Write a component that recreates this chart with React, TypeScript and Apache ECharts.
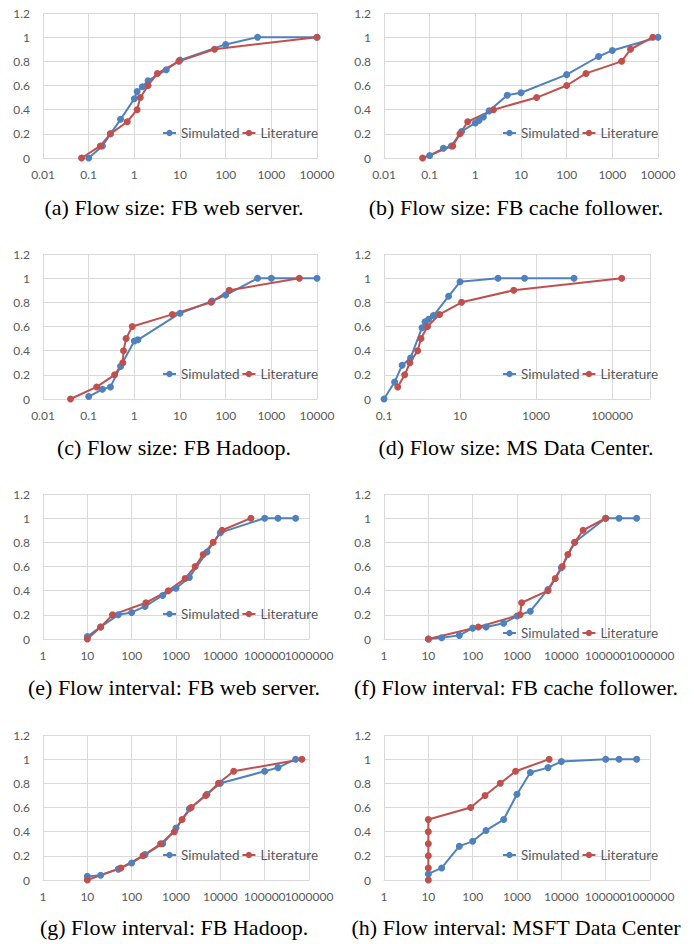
import React, { useEffect, useRef } from 'react';
import * as echarts from 'echarts';

const SERIES_NAMES = ['Simulated', 'Literature'];
const Y_TICKS_MAX = 1.2;

// (a) Flow size: FB web server
const aSimX = [0.1, 0.2, 0.3, 0.5, 1, 1.15, 1.5, 2, 5, 10, 100, 500, 10000];
const aSimY = [0, 0.1, 0.2, 0.32, 0.49, 0.55, 0.59, 0.64, 0.73, 0.81, 0.94, 1, 1];
const aLitX = [0.07, 0.18, 0.3, 0.7, 1.15, 1.35, 2, 3.2, 9.4, 57, 10000];
const aLitY = [0, 0.1, 0.2, 0.3, 0.4, 0.5, 0.6, 0.7, 0.8, 0.9, 1];

// (b) Flow size: FB cache follower
const bSimX = [0.1, 0.2, 0.3, 0.5, 1, 1.2, 1.5, 2, 5, 10, 100, 500, 1000, 10000];
const bSimY = [0.02, 0.08, 0.1, 0.22, 0.29, 0.31, 0.34, 0.39, 0.52, 0.54, 0.69, 0.84, 0.89, 1];
const bLitX = [0.07, 0.32, 0.46, 0.68, 2.5, 22, 100, 265, 1600, 2500, 7700];
const bLitY = [0, 0.1, 0.2, 0.3, 0.4, 0.5, 0.6, 0.7, 0.8, 0.9, 1];

// (c) Flow size: FB Hadoop
const cSimX = [0.1, 0.2, 0.3, 0.5, 1, 1.2, 10, 50, 100, 500, 1000, 10000];
const cSimY = [0.02, 0.08, 0.1, 0.27, 0.48, 0.49, 0.71, 0.81, 0.86, 1, 1, 1];
const cLitX = [0.04, 0.15, 0.37, 0.56, 0.58, 0.66, 0.9, 6.8, 48, 120, 4100];
const cLitY = [0, 0.1, 0.2, 0.3, 0.4, 0.5, 0.6, 0.7, 0.8, 0.9, 1];

// (d) Flow size: MS Data Center
const dSimX = [0.1, 0.19, 0.3, 0.5, 1, 1.2, 1.5, 2, 5, 10, 100, 500, 10000];
const dSimY = [0, 0.14, 0.28, 0.34, 0.59, 0.64, 0.66, 0.69, 0.85, 0.97, 1, 1, 1];
const dLitX = [0.23, 0.35, 0.48, 0.77, 0.94, 1.4, 2.9, 11, 260, 180000];
const dLitY = [0.1, 0.2, 0.3, 0.4, 0.5, 0.6, 0.7, 0.8, 0.9, 1];

// (e) Flow interval: FB web server
const eSimX = [10, 20, 50, 100, 200, 500, 1000, 2000, 5000, 10000, 100000, 200000, 500000];
const eSimY = [0.02, 0.1, 0.2, 0.22, 0.27, 0.36, 0.42, 0.51, 0.72, 0.88, 1, 1, 1];
const eLitX = [10, 20, 37, 210, 670, 1600, 2700, 4100, 6900, 11000, 49000];
const eLitY = [0, 0.1, 0.2, 0.3, 0.4, 0.5, 0.6, 0.7, 0.8, 0.9, 1];

// (f) Flow interval: FB cache follower
const fSimX = [10, 20, 50, 100, 200, 500, 1000, 2000, 5000, 10000, 20000, 100000, 200000, 500000];
const fSimY = [0, 0.01, 0.03, 0.09, 0.1, 0.13, 0.19, 0.23, 0.41, 0.59, 0.8, 1, 1, 1];
const fLitX = [10, 134, 1170, 1270, 5000, 7300, 10500, 14000, 20000, 31000, 100000];
const fLitY = [0, 0.1, 0.2, 0.3, 0.4, 0.5, 0.6, 0.7, 0.8, 0.9, 1];

// (g) Flow interval: FB Hadoop
const gSimX = [10, 20, 50, 100, 200, 500, 1000, 2000, 5000, 10000, 100000, 200000, 500000];
const gSimY = [0.03, 0.04, 0.09, 0.14, 0.21, 0.3, 0.43, 0.59, 0.71, 0.8, 0.9, 0.93, 1];
const gLitX = [10, 57, 180, 450, 920, 1370, 2200, 4700, 9100, 20000, 690000];
const gLitY = [0, 0.1, 0.2, 0.3, 0.4, 0.5, 0.6, 0.7, 0.8, 0.9, 1];

// (h) Flow interval: MSFT Data Center
const hSimX = [10, 20, 50, 100, 200, 500, 1000, 2000, 5000, 10000, 100000, 200000, 500000];
const hSimY = [0.05, 0.1, 0.28, 0.32, 0.41, 0.5, 0.71, 0.89, 0.93, 0.98, 1, 1, 1];
const hLitX = [10, 10, 10, 10, 10, 10, 90, 190, 420, 930, 5300];
const hLitY = [0, 0.1, 0.2, 0.3, 0.4, 0.5, 0.6, 0.7, 0.8, 0.9, 1];

const CAPTIONS = [
  '(a) Flow size: FB web server.',
  '(b) Flow size: FB cache follower.',
  '(c) Flow size: FB Hadoop.',
  '(d) Flow size: MS Data Center.',
  '(e) Flow interval: FB web server.',
  '(f) Flow interval: FB cache follower.',
  '(g) Flow interval: FB Hadoop.',
  '(h) Flow interval: MSFT Data Center',
];

// log10 axis extents (decades) and label step per panel
const X_LOG_MIN = [-2, -2, -2, -1, 0, 0, 0, 0];
const X_LOG_MAX = [4, 4, 4, 6, 6, 6, 6, 6];
const X_LOG_STEP = [1, 1, 1, 2, 1, 1, 1, 1];
// panels whose last tick label overlaps the previous one (both are shown)
const OVERLAP_MAX_LABEL = [false, false, false, false, true, true, true, true];

const PANEL_DATA = [
  [aSimX, aSimY, aLitX, aLitY],
  [bSimX, bSimY, bLitX, bLitY],
  [cSimX, cSimY, cLitX, cLitY],
  [dSimX, dSimY, dLitX, dLitY],
  [eSimX, eSimY, eLitX, eLitY],
  [fSimX, fSimY, fLitX, fLitY],
  [gSimX, gSimY, gLitX, gLitY],
  [hSimX, hSimY, hLitX, hLitY],
];

// layout
const GRIDS = [
  { left: 43, top: 13, width: 274, height: 145 },
  { left: 384, top: 13, width: 274, height: 145 },
  { left: 43, top: 254, width: 274, height: 145 },
  { left: 384, top: 254, width: 266, height: 145 },
  { left: 43, top: 494, width: 266, height: 145 },
  { left: 384, top: 494, width: 266, height: 145 },
  { left: 43, top: 735, width: 266, height: 145 },
  { left: 384, top: 735, width: 266, height: 145 },
];
const LEGENDS = [
  { left: 162, cy: 134 },
  { left: 502, cy: 134 },
  { left: 162, cy: 375 },
  { left: 502, cy: 375 },
  { left: 162, cy: 615 },
  { left: 502, cy: 634 },
  { left: 162, cy: 856 },
  { left: 502, cy: 856 },
];
const CAPTION_POS = [
  [174, 207], [516, 207],
  [174, 447], [516, 447],
  [174, 687], [516, 687],
  [174, 927], [516, 927],
];

const BLUE = '#4F81BD';
const RED = '#C0504D';
const GRID_COLOR = '#D9D9D9';
const LABEL_COLOR = '#595959';
const SANS = 'Lato';

function fmtPow(p: number): string {
  const r = Math.round(p);
  if (r < 0) return Math.pow(10, r).toFixed(-r);
  return String(Math.round(Math.pow(10, r)));
}

function buildOption() {
  const grid: any[] = [];
  const xAxis: any[] = [];
  const extraX: any[] = [];
  const yAxis: any[] = [];
  const series: any[] = [];
  const legend: any[] = [];
  const graphic: any[] = [];

  const labelBase = {
    color: LABEL_COLOR,
    fontFamily: SANS,
    fontSize: 12,
    hideOverlap: false,
  };

  PANEL_DATA.forEach((pd, i) => {
    const [sx, sy, lx, ly] = pd;
    const off = X_LOG_MIN[i];
    const span = X_LOG_MAX[i] - off;
    grid.push({ ...GRIDS[i], containLabel: false });
    xAxis.push({
      type: 'value',
      gridIndex: i,
      position: 'bottom',
      min: 0,
      max: span,
      interval: X_LOG_STEP[i],
      axisLine: { show: true, lineStyle: { color: GRID_COLOR, width: 1 } },
      axisTick: { show: false },
      splitLine: { show: true, lineStyle: { color: GRID_COLOR, width: 1 } },
      axisLabel: {
        ...labelBase,
        margin: 10,
        showMinLabel: true,
        showMaxLabel: !(i === 3 || OVERLAP_MAX_LABEL[i]),
        formatter: (v: number) => fmtPow(v + off),
      },
    });
    if (OVERLAP_MAX_LABEL[i]) {
      // companion axis that carries only the last (overlapping) tick label
      extraX.push({
        type: 'value',
        gridIndex: i,
        position: 'bottom',
        min: 0,
        max: span,
        interval: span,
        axisLine: { show: false },
        axisTick: { show: false },
        splitLine: { show: false },
        axisLabel: {
          ...labelBase,
          margin: 10,
          showMinLabel: false,
          showMaxLabel: true,
          formatter: (v: number) => (v === span ? fmtPow(v + off) : ''),
        },
      });
    }
    yAxis.push({
      type: 'value',
      gridIndex: i,
      min: 0,
      max: Y_TICKS_MAX,
      interval: 0.2,
      axisLine: { show: false },
      axisTick: { show: false },
      splitLine: { show: true, lineStyle: { color: GRID_COLOR, width: 1 } },
      axisLabel: {
        ...labelBase,
        margin: 13,
        formatter: (v: number) => String(Math.round(v * 10) / 10),
      },
    });
    const mk = (xs: number[], ys: number[]) =>
      xs.map((x, k) => [Math.log10(x) - off, ys[k]]);
    series.push({
      name: SERIES_NAMES[0],
      type: 'line',
      xAxisIndex: i,
      yAxisIndex: i,
      data: mk(sx, sy),
      symbol: 'circle',
      symbolSize: 7,
      showSymbol: true,
      lineStyle: { color: BLUE, width: 2 },
      itemStyle: { color: BLUE },
    });
    series.push({
      name: SERIES_NAMES[1],
      type: 'line',
      xAxisIndex: i,
      yAxisIndex: i,
      data: mk(lx, ly),
      symbol: 'circle',
      symbolSize: 7,
      showSymbol: true,
      lineStyle: { color: RED, width: 2 },
      itemStyle: { color: RED },
    });
    legend.push({
      data: SERIES_NAMES,
      left: LEGENDS[i].left,
      top: LEGENDS[i].cy - 8,
      padding: 0,
      itemWidth: 13,
      itemHeight: 8,
      itemGap: 2,
      selectedMode: false,
      textStyle: { color: LABEL_COLOR, fontFamily: SANS, fontSize: 13.5 },
    });
    graphic.push({
      type: 'text',
      x: CAPTION_POS[i][0],
      y: CAPTION_POS[i][1],
      style: {
        text: CAPTIONS[i],
        font: '22px "Liberation Serif"',
        fill: '#000',
        align: 'center',
        verticalAlign: 'middle',
        textAlign: 'center',
        textVerticalAlign: 'middle',
      },
    });
  });

  return {
    animation: false,
    backgroundColor: '#fff',
    grid,
    xAxis: [...xAxis, ...extraX],
    yAxis,
    series,
    legend,
    graphic,
  };
}

export default function App() {
  const ref = useRef<HTMLDivElement>(null);
  useEffect(() => {
    if (!ref.current) return;
    const chart = echarts.init(ref.current, undefined, { renderer: 'svg' });
    chart.setOption(buildOption() as any);
    return () => chart.dispose();
  }, []);
  return (
    <div
      ref={ref}
      style={{ position: 'absolute', left: 0, top: 0, width: 694, height: 944, background: '#fff' }}
    />
  );
}
